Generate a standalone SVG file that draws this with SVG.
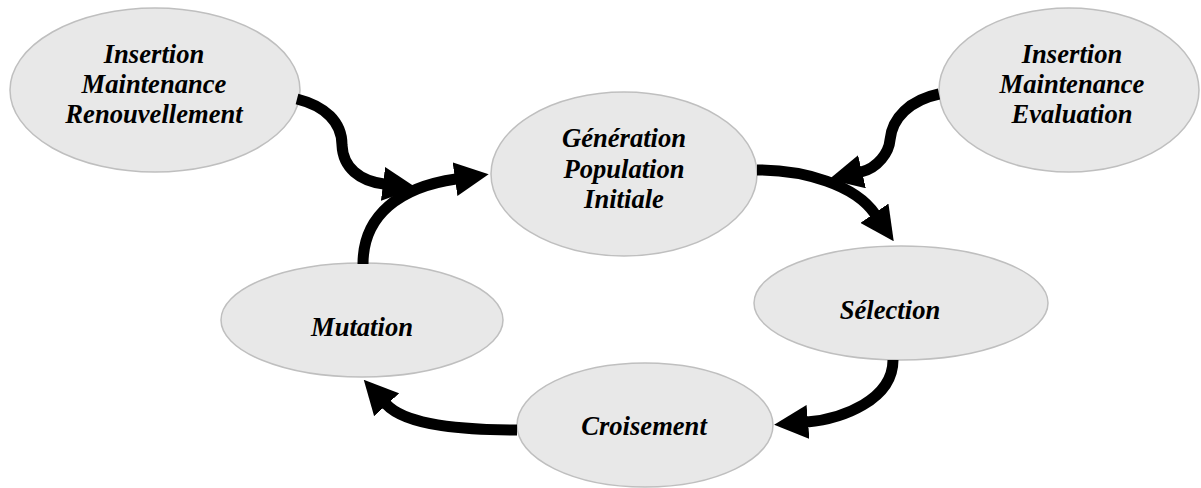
<svg xmlns="http://www.w3.org/2000/svg" width="1201" height="488" viewBox="0 0 1201 488">
<style>
.node ellipse{fill:#e8e8e8;stroke:#bfbfbf;stroke-width:1.5}
.node text{font-family:'Liberation Serif','Times New Roman',serif;font-size:26.6px;font-weight:700;font-style:italic;fill:#000;text-anchor:middle}
.conn path{fill:none;stroke:#000;stroke-width:11;marker-end:url(#ah)}
</style>
<defs>
<marker id="ah" viewBox="0 0 34 34" refX="1" refY="17" markerWidth="34" markerHeight="34" markerUnits="userSpaceOnUse" orient="auto">
<path d="M0,0 L34,17 L0,34 z" fill="#000"/>
</marker>
</defs>
<g id="n1" class="node">
<ellipse cx="155" cy="90" rx="145" ry="82"/>
<text x="154" y="63">Insertion</text>
<text x="154" y="93">Maintenance</text>
<text x="154" y="123">Renouvellement</text>
</g>
<g id="n2" class="node">
<ellipse cx="624" cy="174" rx="133" ry="82"/>
<text x="624" y="147">Génération</text>
<text x="624" y="178">Population</text>
<text x="624" y="208">Initiale</text>
</g>
<g id="n3" class="node">
<ellipse cx="1069" cy="90" rx="130" ry="82"/>
<text x="1072" y="63">Insertion</text>
<text x="1072" y="93">Maintenance</text>
<text x="1072" y="123">Evaluation</text>
</g>
<g id="n4" class="node">
<ellipse cx="901" cy="303" rx="147" ry="57"/>
<text x="890" y="319">Sélection</text>
</g>
<g id="n5" class="node">
<ellipse cx="645" cy="425" rx="128" ry="62"/>
<text x="644" y="435">Croisement</text>
</g>
<g id="n6" class="node">
<ellipse cx="362" cy="320" rx="141" ry="57"/>
<text x="362" y="336">Mutation</text>
</g>
<g id="connectors" class="conn">
<path d="M297 99 C325 106 342 122 342 145 C343 168 360 181 384 184"/>
<path d="M363 264 C363 215 400 187 456 179"/>
<path d="M757 170 C805 170 855 185 875 214"/>
<path d="M939 94 C910 100 892 118 890 140 C889 152 878 168 861 172"/>
<path d="M893 360 C893 400 842 419 807 422"/>
<path d="M517 430 C470 430 407 427 386 404"/>
</g>
</svg>
